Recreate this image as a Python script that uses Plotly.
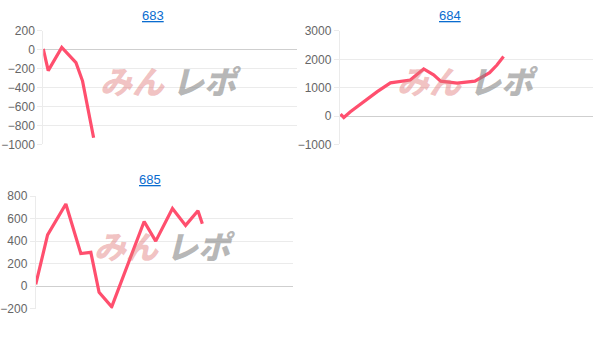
import plotly.graph_objects as go

W, H = 607, 340

# ---- data ----
titles = ["683", "684", "685"]

x683 = [0, 197, 730, 1290, 1550, 1985]
y683 = [10, -220, 25, -135, -330, -930]

x684 = [30, 160, 420, 950, 1480, 2000, 2390, 2780, 3310, 3700, 3980, 4630, 5330, 5910, 6200, 6460]
y684 = [70, -50, 150, 520, 860, 1170, 1230, 1270, 1660, 1450, 1230, 1160, 1230, 1530, 1800, 2100]

x685 = [0, 460, 1170, 1750, 2140, 2460, 2950, 4210, 4660, 5310, 5820, 6300, 6470]
y685 = [15, 455, 730, 290, 300, -55, -185, 575, 400, 690, 540, 670, 555]

yranges = [[-1000, 200], [-1000, 3000], [-200, 800]]
ydticks = [200, 1000, 200]
xmax = 10000

# plot rectangles in pixels (x0, x1, ytop, ybottom)
rects = [(42.3, 296.5, 25, 143.3), (339.3, 593.3, 25, 143.3), (34.8, 292.7, 197.3, 314.5)]
title_pos = [(152.7, 9), (450, 9), (149, 180)]

LINE = "#ff4f6e"
GRID = "#ebebeb"
TICKFONT = dict(family="Liberation Sans, Arial, sans-serif", size=12, color="#666666")

fig = go.Figure()
series = [(x683, y683), (x684, y684), (x685, y685)]
layout = dict(width=W, height=H, margin=dict(l=0, r=0, t=0, b=0),
              paper_bgcolor="white", plot_bgcolor="white", showlegend=False)
annotations = []
for i, ((xs, ys), (x0, x1, yt, yb), yr, dt) in enumerate(zip(series, rects, yranges, ydticks)):
    n = "" if i == 0 else str(i + 1)
    fig.add_trace(go.Scatter(x=xs, y=ys, mode="lines", xaxis="x" + n, yaxis="y" + n,
                             line=dict(color=LINE, width=3.2), hoverinfo="skip"))
    layout["xaxis" + n] = dict(domain=[x0 / W, x1 / W], range=[0, xmax], showgrid=False,
                               zeroline=False, showticklabels=False, showline=False,
                               anchor="y" + n, fixedrange=True)
    layout["yaxis" + n] = dict(domain=[1 - yb / H, 1 - yt / H], range=yr, dtick=dt,
                               anchor="x" + n, showgrid=True, gridcolor=GRID, gridwidth=1,
                               zeroline=True, zerolinecolor="#cfcfcf", zerolinewidth=1,
                               showline=True, linecolor=GRID, linewidth=1,
                               ticks="outside", ticklen=5, tickcolor=GRID,
                               tickfont=TICKFONT, fixedrange=True)
    tx, ty = title_pos[i]
    annotations.append(dict(text="<u>%s</u>" % titles[i], x=tx / W, y=1 - ty / H,
                            xref="paper", yref="paper", showarrow=False,
                            xanchor="center", yanchor="middle",
                            font=dict(family="Liberation Sans, Arial, sans-serif", size=13,
                                      color="#0a6ccf")))
    # watermark
    cx = (x0 + x1) / 2 - 1
    cy = (yt + yb) / 2 - 8
    annotations.append(dict(text="<i>みん</i>", x=(cx - 2) / W, y=1 - cy / H,
                            xref="paper", yref="paper", showarrow=False,
                            xanchor="right", yanchor="middle",
                            font=dict(family="Noto Sans CJK JP", size=32, weight=900,
                                      color="rgba(225,120,120,0.45)")))
    annotations.append(dict(text="<i>レポ</i>", x=(cx + 1) / W, y=1 - cy / H,
                            xref="paper", yref="paper", showarrow=False,
                            xanchor="left", yanchor="middle",
                            font=dict(family="Noto Sans CJK JP", size=32, weight=900,
                                      color="rgba(135,135,135,0.6)")))
layout["annotations"] = annotations
fig.update_layout(**layout)
fig.write_html("out.html")
